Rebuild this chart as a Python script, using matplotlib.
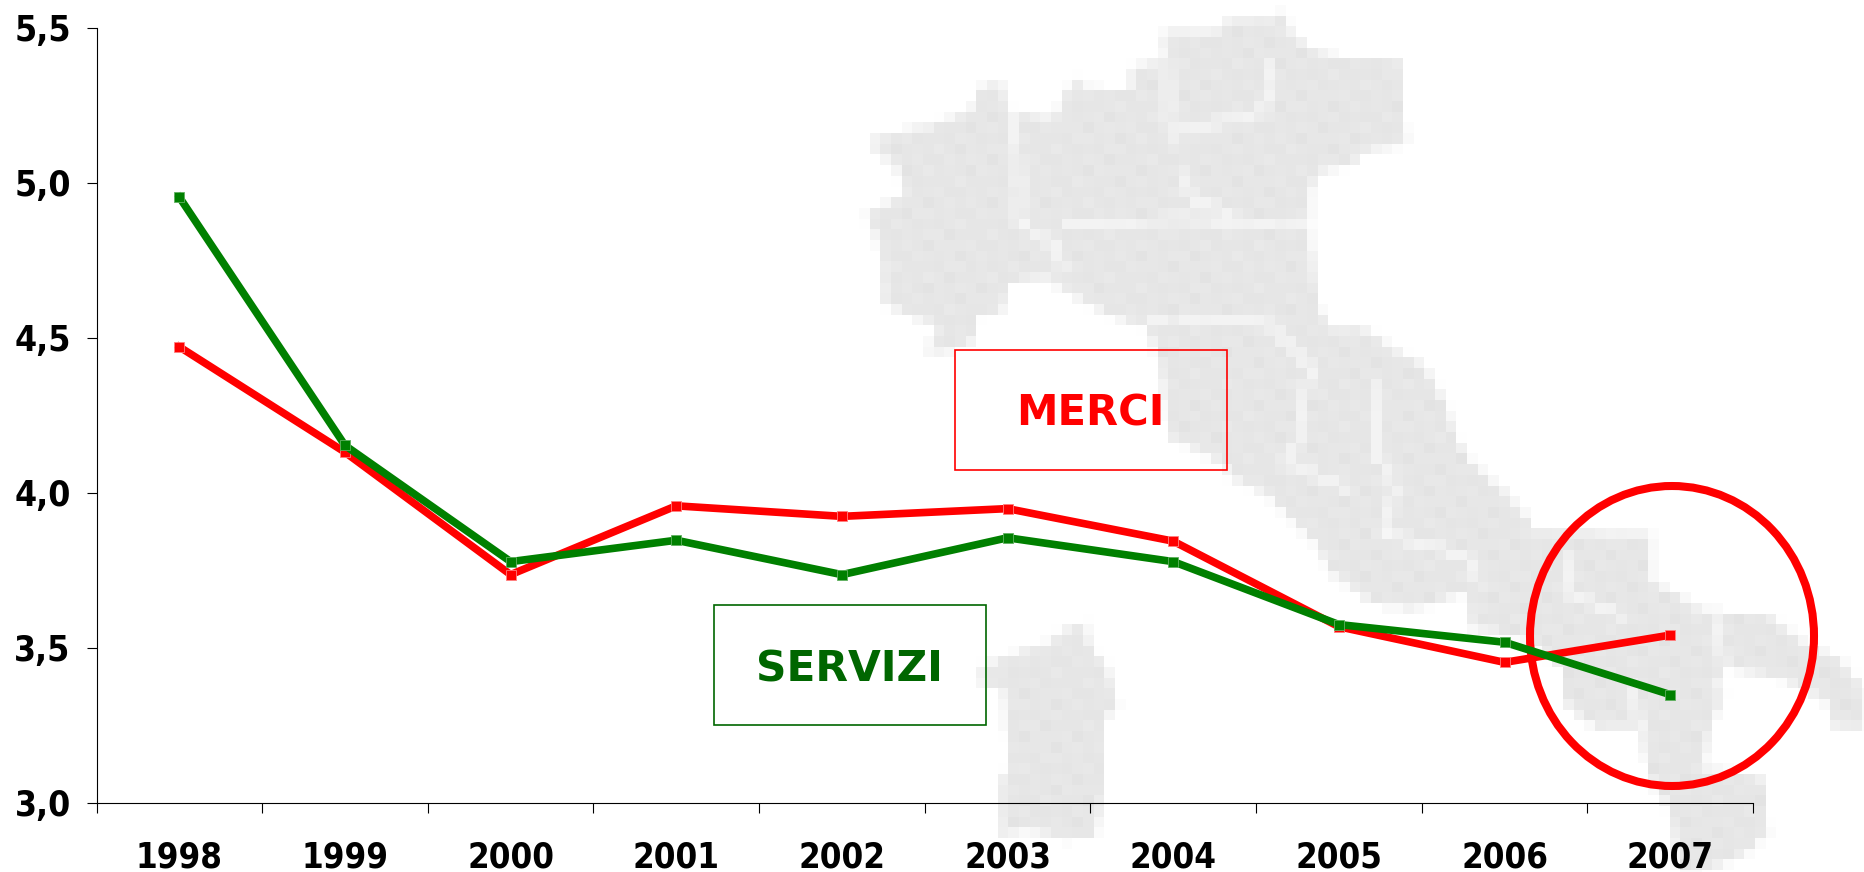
import matplotlib
matplotlib.use('Agg')
import matplotlib.pyplot as plt
import numpy as np
from matplotlib.patches import Ellipse, Rectangle
from matplotlib.path import Path

years = ['1998', '1999', '2000', '2001', '2002', '2003', '2004', '2005', '2006', '2007']
merci = [4.47, 4.13, 3.735, 3.957, 3.923, 3.948, 3.843, 3.567, 3.452, 3.54]
servizi = [4.953, 4.152, 3.777, 3.846, 3.735, 3.854, 3.777, 3.574, 3.517, 3.348]
y_ticks = [3.0, 3.5, 4.0, 4.5, 5.0, 5.5]
y_labels = ['3,0', '3,5', '4,0', '4,5', '5,0', '5,5']

italy = [(680, 20), (690, 60), (720, 90), (765, 105), (860, 110), (865, 260), (800, 275), (790, 295),
         (735, 310), (718, 350), (718, 420), (735, 560), (750, 590), (800, 590), (850, 630), (895, 660),
         (925, 720), (945, 790), (965, 830), (1010, 875), (1050, 925), (1060, 955), (1240, 960),
         (1240, 1045), (1290, 1075), (1320, 1100), (1420, 1105), (1480, 1160), (1530, 1185), (1568, 1240),
         (1568, 1310), (1520, 1310), (1510, 1260), (1440, 1220), (1355, 1200), (1340, 1240), (1355, 1250),
         (1335, 1300), (1320, 1380), (1415, 1400), (1420, 1500), (1380, 1540), (1320, 1568), (1285, 1568),
         (1270, 1460), (1240, 1400), (1225, 1310), (1160, 1310), (1110, 1270), (1105, 1200), (1050, 1150),
         (965, 1130), (960, 1065), (880, 1095), (815, 1085), (750, 1030), (730, 980), (655, 890), (600, 860),
         (590, 840), (550, 810), (505, 790), (490, 660), (470, 590), (440, 580), (400, 560), (310, 500),
         (260, 510), (250, 560), (210, 570), (210, 610), (160, 635), (130, 635), (150, 590), (100, 565),
         (65, 545), (65, 470), (50, 410), (35, 390), (100, 350), (85, 300), (50, 270), (50, 250), (130, 230),
         (200, 200), (215, 160), (245, 145), (260, 200), (325, 215), (360, 140), (375, 160), (445, 165),
         (445, 125), (490, 110), (495, 60), (570, 60), (600, 35), (670, 35)]
sardinia = [(340, 1135), (375, 1120), (385, 1170), (410, 1200), (425, 1275), (405, 1290), (405, 1420),
            (390, 1505), (350, 1510), (280, 1490), (245, 1510), (245, 1400), (260, 1380), (250, 1240),
            (215, 1230), (215, 1200), (280, 1170), (325, 1155)]
borders = [[(270, 200), (275, 400), (335, 450), (340, 490)],
           [(340, 400), (550, 395), (720, 410)],
           [(660, 110), (650, 200), (505, 245), (500, 90)],
           [(520, 310), (540, 360), (600, 385)],
           [(470, 580), (650, 575), (720, 660)],
           [(720, 660), (700, 800), (680, 830), (780, 880)],
           [(820, 690), (815, 800), (850, 880), (830, 960)],
           [(830, 960), (960, 1000), (980, 1050)],
           [(1110, 1000), (1120, 1070), (1200, 1110)],
           [(1215, 1230), (1225, 1310)],
           [(1340, 1110), (1355, 1200)]]


def to_px(pts):
    pts = np.array(pts, dtype=float)
    return np.column_stack((840 + pts[:, 0] / 1.531, pts[:, 1] / 1.798))


def seg_dist(p, a, b):
    ab = b - a
    t = np.clip(((p - a) @ ab) / (ab @ ab), 0, 1)
    return np.hypot(*(p - a - t[:, None] * ab).T)


def map_image(x0, y0, cell, nx, ny, sub=4):
    # coarse tiles with partial coverage at the edges gives the blocky look
    offs = (np.arange(sub) + 0.5) / sub
    sx = x0 + (np.arange(nx)[:, None] + offs).ravel() * cell
    sy = y0 + (np.arange(ny)[:, None] + offs).ravel() * cell
    xx, yy = np.meshgrid(sx, sy)
    pts = np.column_stack((xx.ravel(), yy.ravel()))
    ink = Path(to_px(italy)).contains_points(pts) | Path(to_px(sardinia)).contains_points(pts)
    for line in borders:
        line = to_px(line)
        for a, b in zip(line[:-1], line[1:]):
            ink &= seg_dist(pts, a, b) > 2.5
    ink = ink.reshape(ny * sub, nx * sub)
    cov = ink.reshape(ny, sub, nx, sub).mean(axis=(1, 3))
    # mild tile mottling like the jpeg-ish original
    iy, ix = np.indices((ny, nx))
    shade = 25 + 2.5 * np.sin(ix * 1.7 + iy * 0.9) * np.cos(ix * 0.6 - iy * 2.3)
    return 255 - shade * cov


fig = plt.figure(figsize=(18.64, 8.72), dpi=100)

# pixel-coordinate layer behind the chart
bg = fig.add_axes([0, 0, 1, 1], zorder=0)
bg.axis('off')
x0, y0, cell = 859, 6, 32 / 3
nx, ny = 95, 82
bg.imshow(map_image(x0, y0, cell, nx, ny), cmap='gray', vmin=0, vmax=255, interpolation='nearest',
          extent=[x0, x0 + nx * cell, y0 + ny * cell, y0], aspect='auto')
bg.set_xlim(0, 1864)
bg.set_ylim(872, 0)
bg.add_patch(Rectangle((954.5, 349.5), 272.5, 120.5, fill=False, ec='#ff0000', lw=1.2))
bg.add_patch(Rectangle((713.5, 604.5), 272.5, 120.5, fill=False, ec='#006600', lw=1.2))
bg.text(1090, 413, 'MERCI', color='#ff0000', fontsize=30, fontweight='bold', ha='center', va='center')
bg.text(849, 669, 'SERVIZI', color='#006600', fontsize=30.5, fontweight='bold', ha='center', va='center')
bg.add_patch(Ellipse((1672, 636), 284, 300, fill=False, ec='#ff0000', lw=5.8))

ax = fig.add_axes([96.5 / 1864, (872 - 802.5) / 872, (1753 - 96.5) / 1864, 775 / 872], zorder=1)
ax.patch.set_alpha(0)
x = np.arange(len(years)) + 0.5
ax.plot(x, merci, color='#ff0000', lw=5.5, marker='s', ms=7, mec='#ff8080', mew=0.6, clip_on=False)
ax.plot(x, servizi, color='#008000', lw=5.5, marker='s', ms=7, mec='#60b060', mew=0.6, clip_on=False)

ax.set_xlim(0, len(years))
ax.set_ylim(3.0, 5.5)
ax.set_xticks(np.arange(len(years) + 1))
ax.set_xticklabels([])
ax.set_xticks(x, minor=True)
ax.set_xticklabels(years, minor=True, fontsize=25, fontweight='bold', fontstretch='condensed')
ax.set_yticks(y_ticks)
ax.set_yticklabels(y_labels, fontsize=25.5, fontweight='bold', fontstretch='condensed')
ax.tick_params(axis='x', which='major', length=7.5, width=0.8)
ax.tick_params(axis='x', which='minor', length=0, pad=27)
ax.tick_params(axis='y', length=7.5, width=0.8, pad=11)
for s in ['top', 'right']:
    ax.spines[s].set_visible(False)
for s in ['left', 'bottom']:
    ax.spines[s].set_linewidth(0.8)

plt.savefig('out.png', dpi=100)
